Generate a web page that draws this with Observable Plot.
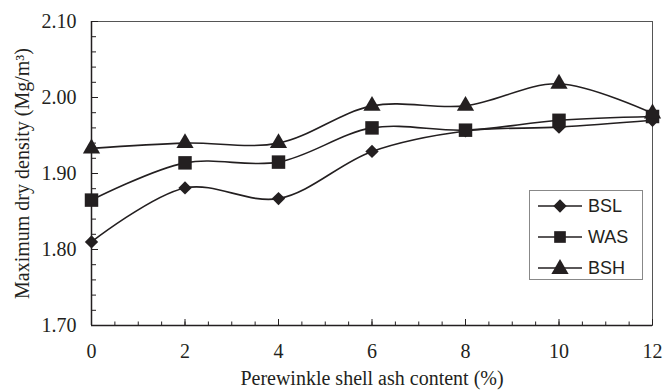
<!DOCTYPE html>
<html>
<head>
<meta charset="utf-8">
<script src="https://cdn.jsdelivr.net/npm/d3@7"></script>
<script src="https://cdn.jsdelivr.net/npm/@observablehq/plot@0.6"></script>
<style>
  html, body { margin: 0; padding: 0; background: #fff; }
  #wrap { position: relative; width: 665px; height: 392px; }
  #wrap svg text { font-family: "Liberation Serif", "Times New Roman", serif !important; font-variant: normal !important; font-variant-numeric: normal !important; }
  #legend { position: absolute; left: 529px; top: 190px; width: 114px; height: 90px;
    border: 1px solid #888; background: #fff; box-sizing: border-box;
    font-family: "Liberation Sans", Arial, sans-serif; font-size: 18px; color: #231f20; }
  .item { position: absolute; left: 0; height: 22px; display: flex; align-items: center; }
  .item svg { display: block; }
  .item span { margin-left: 5px; }
</style>
</head>
<body>
<div id="wrap"></div>
<script>
const contents = [0, 2, 4, 6, 8, 10, 12];
const seriesNames = ["BSL", "WAS", "BSH"];
const bsl = [1.810, 1.881, 1.867, 1.929, 1.956, 1.961, 1.970];
const was = [1.865, 1.914, 1.915, 1.960, 1.957, 1.970, 1.975];
const bsh = [1.933, 1.940, 1.940, 1.989, 1.989, 2.018, 1.979];
const symbols = ["diamond2", "square", "triangle"];
const xMajor = [0, 2, 4, 6, 8, 10, 12];
const xMinor = d3.range(0, 12.01, 0.5);
const yMajor = [1.70, 1.80, 1.90, 2.00, 2.10];
const yMinor = d3.range(1.70, 2.1001, 0.02);

const values = [bsl, was, bsh];
const rows = [];
seriesNames.forEach((s, i) => contents.forEach((c, j) => rows.push({series: s, x: c, y: values[i][j]})));

const serif = "'Liberation Serif', 'Times New Roman', serif";
const ink = "#231f20";

const plot = Plot.plot({
  width: 665,
  height: 392,
  marginLeft: 91,
  marginRight: 13,
  marginTop: 21,
  marginBottom: 67,
  style: {fontFamily: serif, color: ink, background: "#fff"},
  x: {domain: [0, 12]},
  y: {domain: [1.70, 2.10]},
  marks: [
    Plot.frame({stroke: "#555", strokeWidth: 1}),
    Plot.axisX({ticks: xMinor, tickSize: -3.5, tickFormat: () => "", label: null, stroke: ink}),
    Plot.axisX({ticks: xMajor, tickSize: -6, tickFormat: () => "", label: null, stroke: ink}),
    Plot.axisX({ticks: xMajor, tickSize: 0, tickPadding: 18, fontSize: 20, fontFamily: serif, fill: ink,
      label: "Perewinkle shell ash content (%)", labelAnchor: "center", labelOffset: 59, labelArrow: "none"}),
    Plot.axisY({ticks: yMinor, tickSize: -5, tickFormat: () => "", label: null, stroke: ink}),
    Plot.axisY({ticks: yMajor, tickSize: -7, tickFormat: () => "", label: null, stroke: ink}),
    Plot.axisY({ticks: yMajor, tickSize: 0, tickPadding: 15, fontSize: 20, fontFamily: serif, fill: ink,
      tickFormat: d3.format(".2f"),
      label: "Maximum dry density (Mg/m³)", labelAnchor: "center", labelOffset: 77, labelArrow: "none"}),
    Plot.ruleX([0], {stroke: ink, strokeWidth: 1.5}),
    Plot.ruleY([1.70], {stroke: ink, strokeWidth: 1.5}),
    Plot.line(rows, {x: "x", y: "y", z: "series", curve: "catmull-rom", stroke: ink, strokeWidth: 1.6}),
    Plot.dot(rows.filter(d => d.series === "BSL"), {x: "x", y: "y", symbol: () => "diamond2", r: 6, fill: ink, stroke: "none"}),
    Plot.dot(rows.filter(d => d.series === "WAS"), {x: "x", y: "y", symbol: () => "square", r: 7.6, fill: ink, stroke: "none"}),
    Plot.dot(rows.filter(d => d.series === "BSH"), {x: "x", y: "y", symbol: () => "triangle", r: 6.4, fill: ink, stroke: "none"})
  ]
});
const wrap = document.getElementById("wrap");
wrap.appendChild(plot);

// legend
const legend = document.createElement("div");
legend.id = "legend";
wrap.appendChild(legend);
const symGen = {
  diamond2: d3.symbol(d3.symbolDiamond2, Math.PI * 36),
  square: d3.symbol(d3.symbolSquare, Math.PI * 7.6 * 7.6 * 0.75),
  triangle: d3.symbol(d3.symbolTriangle, Math.PI * 6.4 * 6.4)
};
seriesNames.forEach((name, i) => {
  const item = document.createElement("div");
  item.className = "item";
  item.style.top = (4 + i * 31) + "px";
  item.style.left = "7px";
  item.innerHTML = `<svg width="46" height="22"><line x1="1" x2="45" y1="11" y2="11" stroke="${ink}" stroke-width="1.6"/>` +
    `<path transform="translate(23,${i === 2 ? 12 : 11})" d="${symGen[symbols[i]]()}" fill="${ink}"/></svg><span>${name}</span>`;
  legend.appendChild(item);
});
</script>
</body>
</html>
